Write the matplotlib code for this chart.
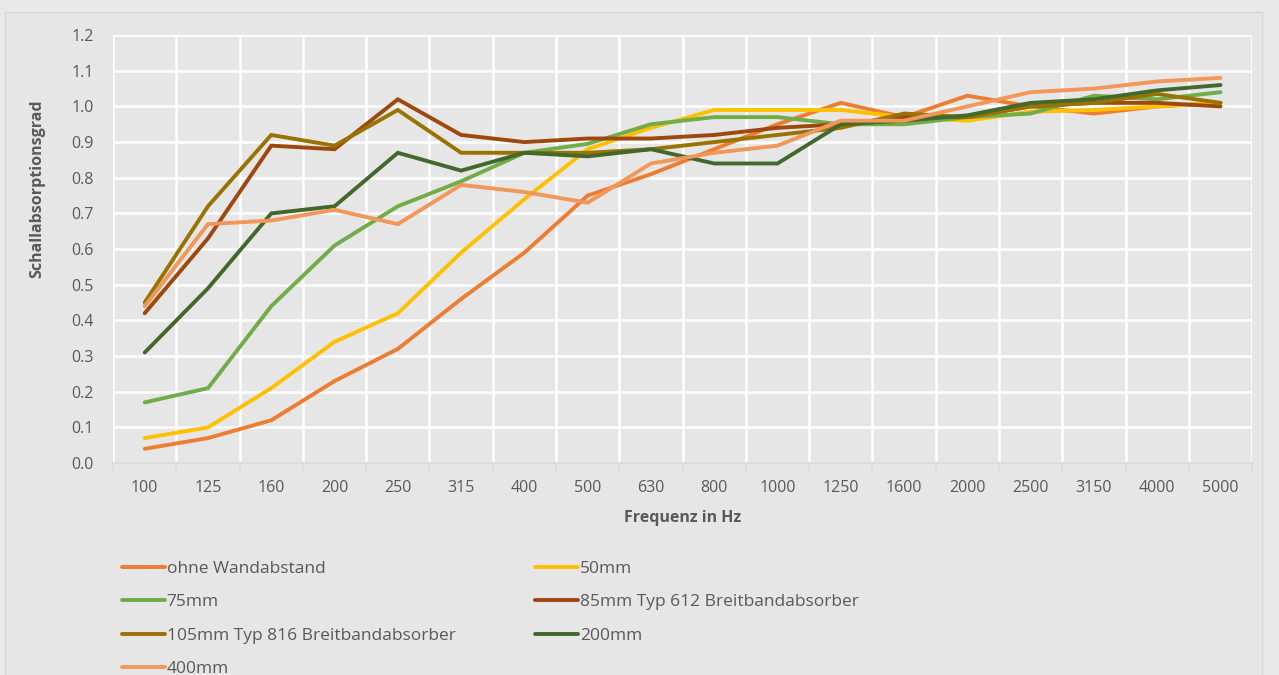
import matplotlib
matplotlib.use("Agg")
import matplotlib.pyplot as plt
from matplotlib.patches import Rectangle

plt.rcParams['font.family'] = ['Open Sans', 'DejaVu Sans']

categories = ["100", "125", "160", "200", "250", "315", "400", "500", "630", "800",
              "1000", "1250", "1600", "2000", "2500", "3150", "4000", "5000"]

ohne = [0.04, 0.07, 0.12, 0.23, 0.32, 0.46, 0.59, 0.75, 0.81, 0.88, 0.95, 1.01, 0.97, 1.03, 1.00, 0.98, 1.00, 1.01]
mm50 = [0.07, 0.10, 0.21, 0.34, 0.42, 0.59, 0.74, 0.88, 0.94, 0.99, 0.99, 0.99, 0.97, 0.96, 0.985, 0.99, 1.00, 1.01]
mm75 = [0.17, 0.21, 0.44, 0.61, 0.72, 0.79, 0.87, 0.895, 0.95, 0.97, 0.97, 0.95, 0.95, 0.97, 0.98, 1.03, 1.02, 1.04]
mm85 = [0.42, 0.63, 0.89, 0.88, 1.02, 0.92, 0.90, 0.91, 0.91, 0.92, 0.94, 0.95, 0.97, 0.97, 1.00, 1.01, 1.01, 1.00]
mm105 = [0.45, 0.72, 0.92, 0.89, 0.99, 0.87, 0.87, 0.87, 0.88, 0.90, 0.92, 0.94, 0.98, 0.97, 1.00, 1.01, 1.035, 1.01]
mm200 = [0.31, 0.49, 0.70, 0.72, 0.87, 0.82, 0.87, 0.86, 0.88, 0.84, 0.84, 0.95, 0.96, 0.975, 1.01, 1.02, 1.045, 1.06]
mm400 = [0.44, 0.67, 0.68, 0.71, 0.67, 0.78, 0.76, 0.73, 0.84, 0.87, 0.89, 0.96, 0.96, 1.00, 1.04, 1.05, 1.07, 1.08]

series_names = ["ohne Wandabstand", "50mm", "75mm", "85mm Typ 612 Breitbandabsorber",
                "105mm Typ 816 Breitbandabsorber", "200mm", "400mm"]
series_values = [ohne, mm50, mm75, mm85, mm105, mm200, mm400]
series_colors = ["#ED7D31", "#FFC000", "#70AD47", "#9E480E", "#997300", "#43682B", "#F1975A"]

bg = "#E7E6E6"
fig = plt.figure(figsize=(12.79, 6.75), dpi=100, facecolor="#E9E9E9")
frame = Rectangle((5 / 1279, -0.05), 1257 / 1279, 1.05 - 12 / 675,
                  transform=fig.transFigure, facecolor=bg,
                  edgecolor="#D6D6D6", lw=1.0, zorder=-10)
fig.patches.append(frame)
ax = fig.add_axes([0.0884, 0.314, 0.8906, 0.634])
ax.set_facecolor(bg)

x = list(range(len(categories)))
handles = []
for name, vals, col in zip(series_names, series_values, series_colors):
    h, = ax.plot(x, vals, color=col, lw=2.8, label=name, solid_capstyle='round',
                 solid_joinstyle='miter', zorder=3)
    handles.append(h)

ax.set_xlim(-0.5, len(categories) - 0.5)
ax.set_ylim(0, 1.2)
ax.set_yticks([i / 10 for i in range(13)])
ax.set_yticklabels([f"{i/10:.1f}" for i in range(13)])
ax.set_xticks(x)
ax.set_xticklabels(categories)
ax.set_xticks([i - 0.5 for i in range(len(categories) + 1)], minor=True)

ax.grid(True, axis='y', which='major', color='white', lw=1.8, zorder=1)
ax.grid(True, axis='x', which='minor', color='white', lw=1.8, zorder=1)
ax.grid(False, axis='x', which='major')

for s in ['top', 'right', 'left']:
    ax.spines[s].set_visible(False)
ax.spines['bottom'].set_color('#D9D9D9')
ax.spines['bottom'].set_linewidth(1.2)

ax.tick_params(axis='x', which='major', length=0, pad=12, labelsize=11.5, labelcolor='#595959')
ax.tick_params(axis='x', which='minor', length=6, color='#D9D9D9', width=1.2)
ax.tick_params(axis='y', length=0, pad=14, labelsize=11.5, labelcolor='#595959')

ax.set_xlabel("Frequenz in Hz", fontsize=11.5, fontweight='bold', color='#595959', labelpad=10)
ax.set_ylabel("Schallabsorptionsgrad", fontsize=11.5, fontweight='bold', color='#595959',
              va='center')
ax.yaxis.set_label_coords(-0.0667, 0.64)

order = [0, 2, 4, 6, 1, 3, 5]
leg = fig.legend([handles[i] for i in order], [series_names[i] for i in order],
                 ncol=2, loc='upper left', bbox_to_anchor=(0.090, 0.180),
                 frameon=False, fontsize=12.5, handlelength=2.47, handletextpad=0.1,
                 columnspacing=4.6, labelspacing=1.0, borderaxespad=0)
for t in leg.get_texts():
    t.set_color('#595959')

fig.savefig("out.png", dpi=100, facecolor=fig.get_facecolor())
